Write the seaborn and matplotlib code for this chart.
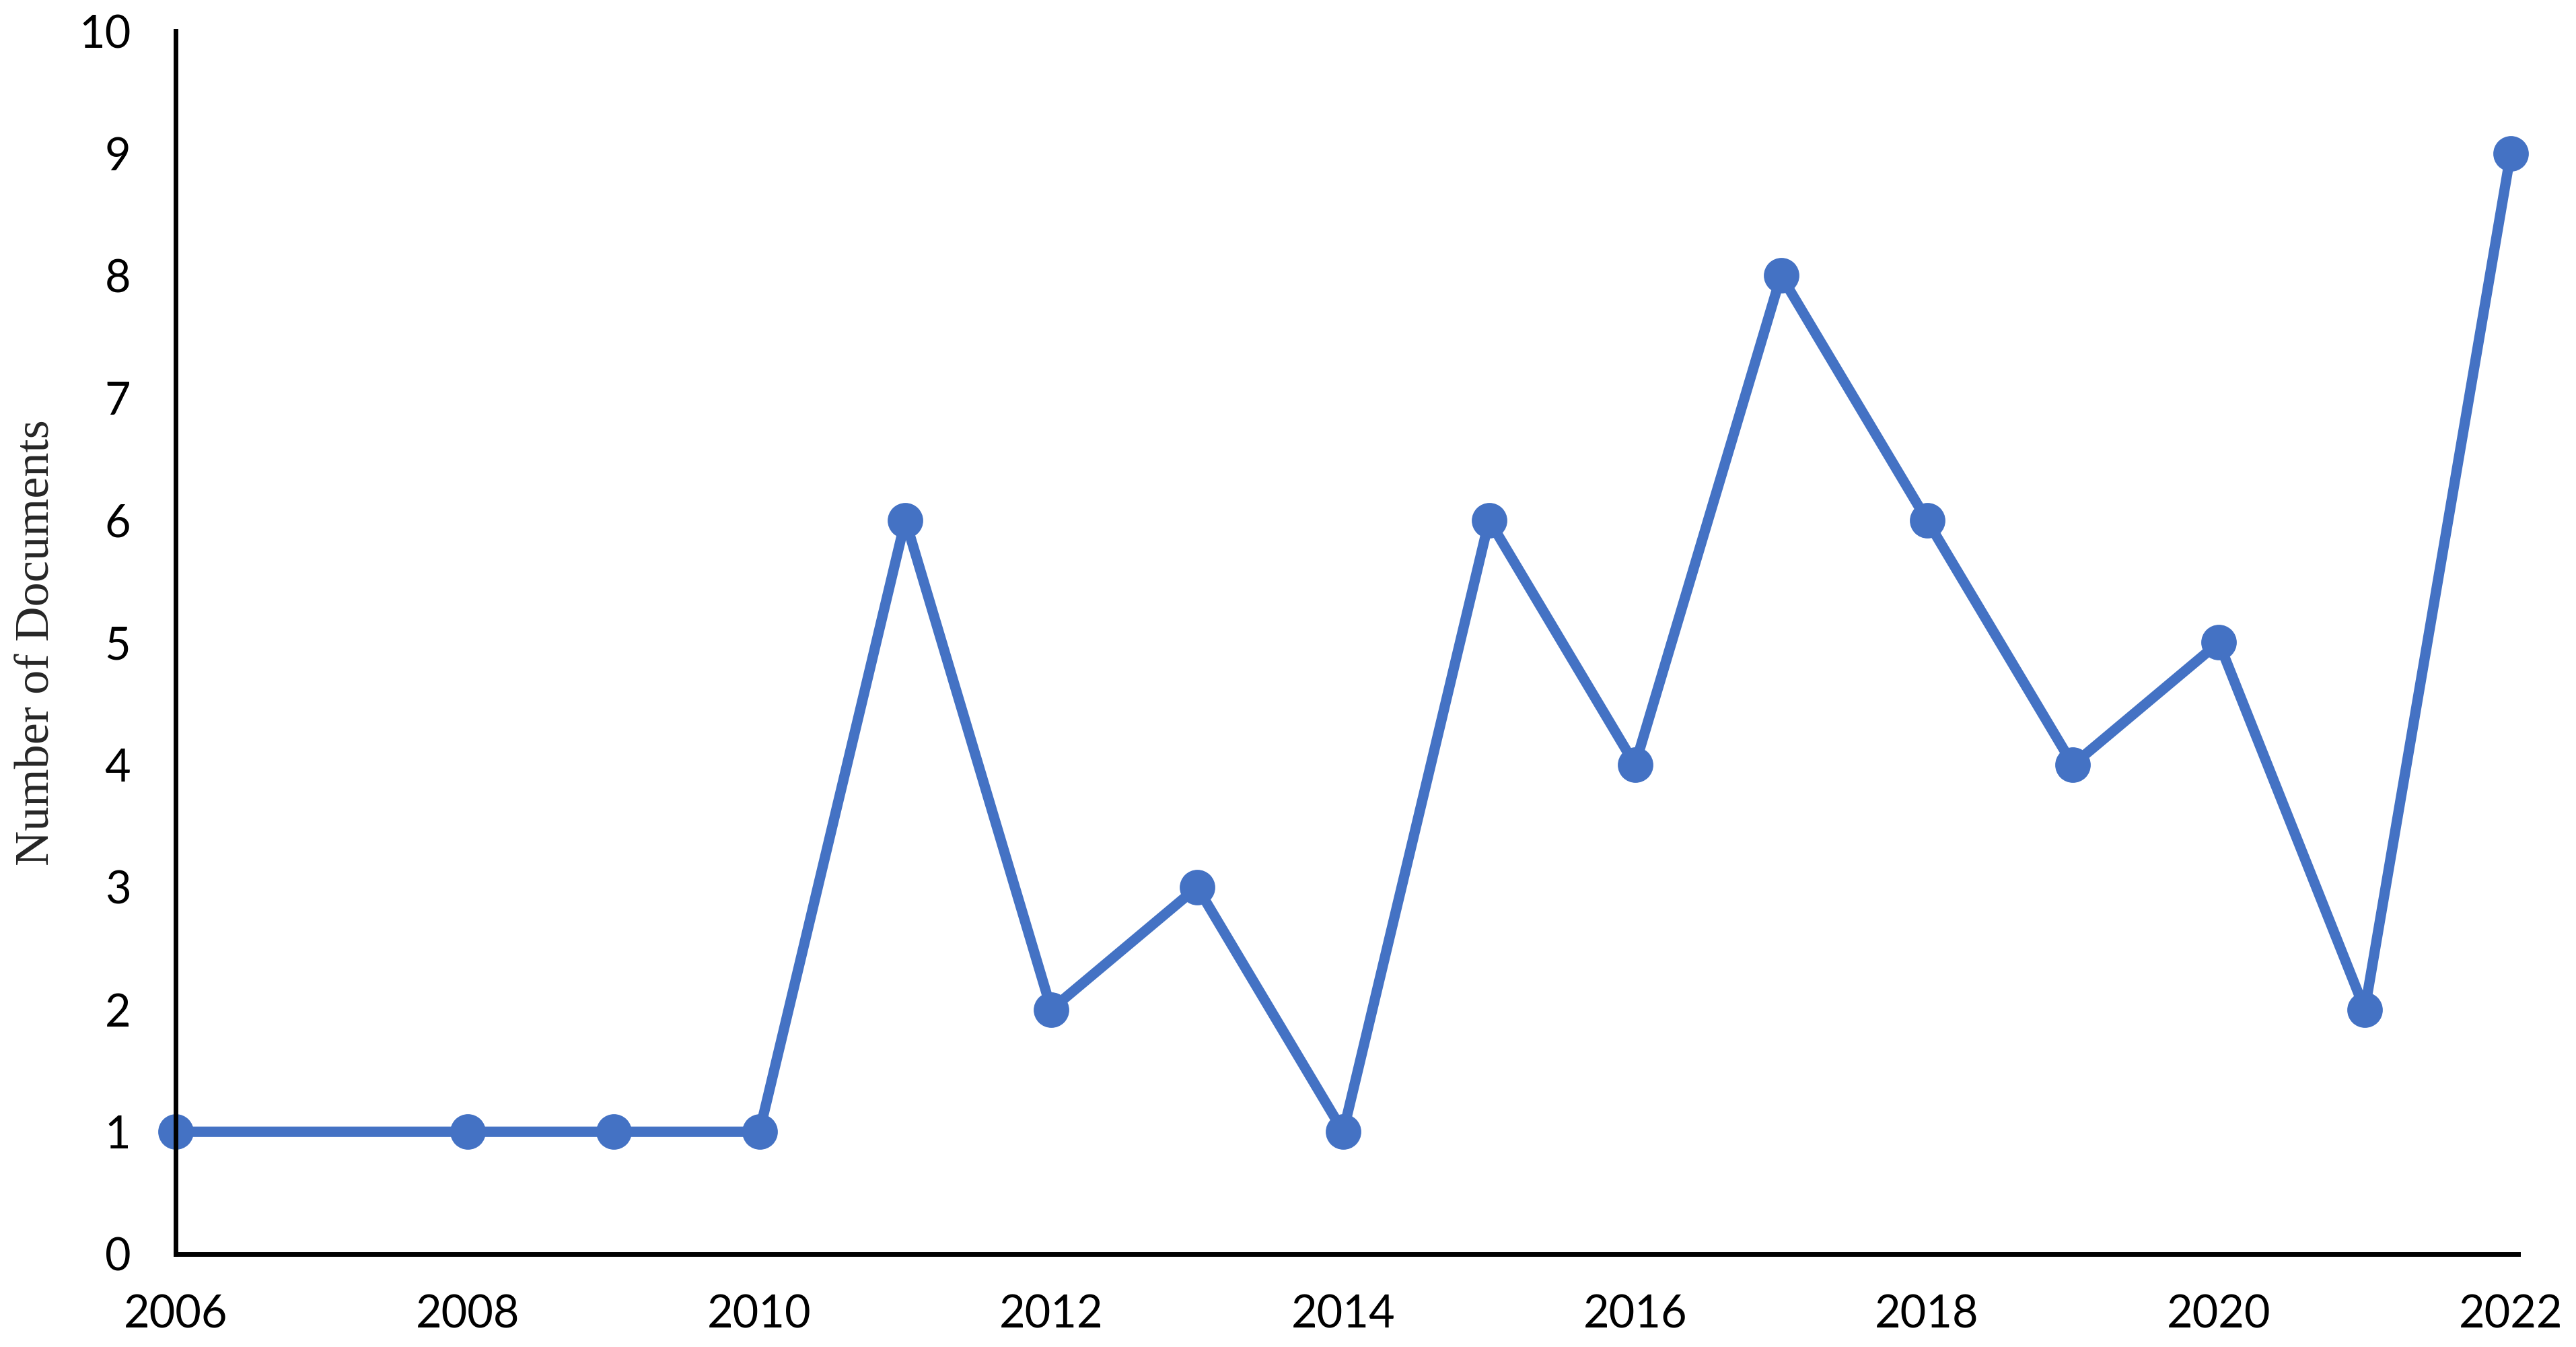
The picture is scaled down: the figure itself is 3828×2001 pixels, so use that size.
import matplotlib
matplotlib.use("Agg")
import matplotlib.pyplot as plt
import seaborn as sns
import pandas as pd

# publications per year (no 2007 entry)
years = [2006, 2008, 2009, 2010, 2011, 2012, 2013, 2014, 2015, 2016, 2017, 2018, 2019, 2020, 2021, 2022]
documents = [1, 1, 1, 1, 6, 2, 3, 1, 6, 4, 8, 6, 4, 5, 2, 9]
x_ticks = [2006, 2008, 2010, 2012, 2014, 2016, 2018, 2020, 2022]
y_ticks = list(range(0, 11))

df = pd.DataFrame({'Year': years, 'Documents': documents})

sns.set_style('white')
plt.rcParams['font.family'] = ['Lato', 'DejaVu Sans']

fig = plt.figure(figsize=(38.28, 20.01), dpi=100)
ax = fig.add_axes([0.0682, 0.069, 0.9093, 0.908])

sns.lineplot(data=df, x='Year', y='Documents', ax=ax, color='#4472C4',
             linewidth=11, marker='o', markersize=38, markeredgewidth=0,
             clip_on=False)

ax.set_xlim(2006, 2022.05)
ax.set_ylim(0, 10)
ax.set_xticks(x_ticks)
ax.set_yticks(y_ticks)
ax.tick_params(axis='both', length=0, labelsize=48, colors='black')
ax.tick_params(axis='x', pad=43)
ax.tick_params(axis='y', pad=48)

for side in ['top', 'right']:
    ax.spines[side].set_visible(False)
for side in ['left', 'bottom']:
    ax.spines[side].set_linewidth(5)
    ax.spines[side].set_color('black')

ax.set_xlabel('')
ax.set_ylabel('Number of Documents', fontsize=52, family=['Liberation Serif'])
ax.yaxis.set_label_coords(-0.05, 0.5)

fig.savefig('out.png', dpi=100)
